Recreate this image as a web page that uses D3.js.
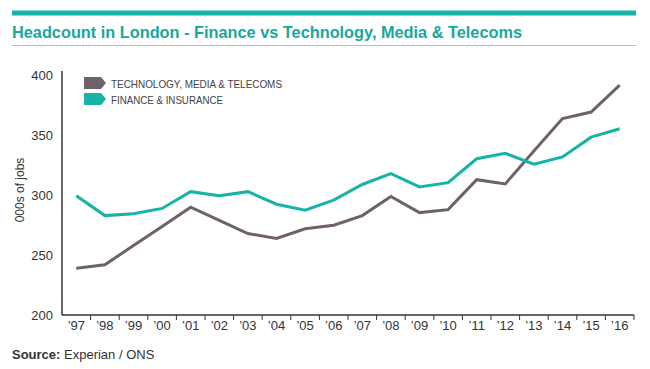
<!DOCTYPE html>
<html><head><meta charset="utf-8">
<script src="https://cdnjs.cloudflare.com/ajax/libs/d3/7.8.5/d3.min.js"></script>
<style>body{margin:0;background:#fff;}svg{display:block;font-family:"Liberation Sans",Arial,sans-serif;}</style>
</head><body><svg id="c" width="650" height="369"></svg>
<script>
const years = ["97","98","99","00","01","02","03","04","05","06","07","08","09","10","11","12","13","14","15","16"];
const tech = [239,242,258,274,290,279,268,264,272,275,283,299,285.5,288,313,309.5,337,364,369.5,392];
const finance = [299.5,283,284.5,289,303,299.5,303,292.5,287.5,296,309,318,307,310.5,330.5,335,326,332,348.5,355.5];
const yTicks = [200,250,300,350,400];
const seriesNames = ["TECHNOLOGY, MEDIA & TELECOMS","FINANCE & INSURANCE"];
const colors = ["#6e6268","#17b3a6"];

const svg = d3.select("#c");
const teal = "#17a89d";
svg.append("rect").attr("x",12).attr("y",10.5).attr("width",624).attr("height",5).attr("fill","#17b3a6");
svg.append("text").attr("x",12).attr("y",37.5).attr("font-size",17).attr("font-weight","bold")
  .attr("fill",teal).attr("textLength",510).attr("lengthAdjust","spacingAndGlyphs")
  .text("Headcount in London - Finance vs Technology, Media & Telecoms");
svg.append("line").attr("x1",12).attr("x2",636).attr("y1",45.5).attr("y2",45.5).attr("stroke","#bbb").attr("stroke-width",1);

const x = d3.scaleBand().domain(years).range([62,634]);
const y = d3.scaleLinear().domain([200,400]).range([315,75.5]);

// y axis
const gy = svg.append("g").attr("transform","translate(62,0)")
  .call(d3.axisLeft(y).tickValues(yTicks).tickSize(0).tickPadding(9));
gy.select(".domain").attr("stroke","#333").attr("stroke-width",1.5).attr("d","M0,71V315");
gy.selectAll("text").attr("font-size",13).attr("fill","#333").attr("font-family","Liberation Sans, Arial, sans-serif");

// x axis
const gx = svg.append("g").attr("transform","translate(0,315)")
  .call(d3.axisBottom(x).tickSize(0).tickPadding(6).tickFormat(d=>"\u2019"+d));
gx.select(".domain").attr("stroke","#333").attr("stroke-width",1.5).attr("d","M62,0H634");
gx.selectAll("text").attr("font-size",13).attr("fill","#333").attr("font-family","Liberation Sans, Arial, sans-serif");
// tick marks at band boundaries, pointing down
svg.append("g").selectAll("line").data(years).join("line")
  .attr("x1",d=>x(d)+x.bandwidth()).attr("x2",d=>x(d)+x.bandwidth())
  .attr("y1",315).attr("y2",320).attr("stroke","#333").attr("stroke-width",1);

svg.append("text").attr("transform","translate(24,190) rotate(-90)").attr("text-anchor","middle")
  .attr("font-size",12).attr("fill","#333").text("000s of jobs");

const line = d3.line().x((d,i)=>x(years[i])+x.bandwidth()/2).y(d=>y(d));
[tech,finance].forEach((s,i)=>{
  svg.append("path").datum(s).attr("d",line).attr("fill","none")
    .attr("stroke",colors[i]).attr("stroke-width",3).attr("stroke-linejoin","miter");
});

// legend
const lg = svg.append("g");
seriesNames.forEach((n,i)=>{
  const yy = 77 + i*16;
  lg.append("path").attr("d",`M84,${yy}h17l5,6l-5,6h-17z`).attr("fill",colors[i]);
  lg.append("text").attr("x",111).attr("y",yy+10.5).attr("font-size",11.5).attr("fill","#444")
    .attr("textLength", i===0?171:112).attr("lengthAdjust","spacingAndGlyphs").text(n);
});

// source
const src = svg.append("text").attr("x",12).attr("y",359).attr("font-size",13).attr("fill","#333");
src.append("tspan").attr("font-weight","bold").text("Source:");
src.append("tspan").text(" Experian / ONS");
</script></body></html>
